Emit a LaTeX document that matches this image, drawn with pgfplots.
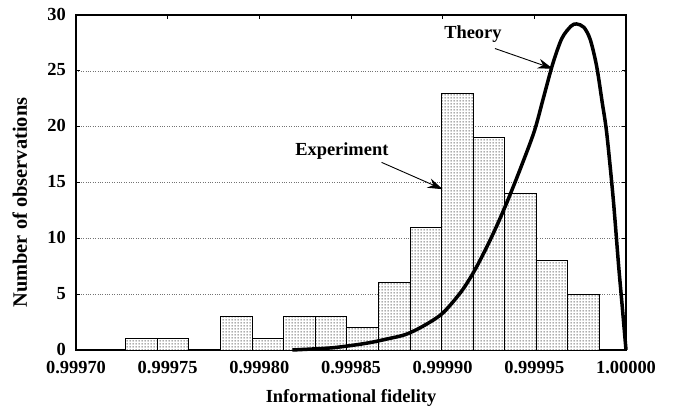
\documentclass[border=0pt]{standalone}
\usepackage{fontspec}
\setmainfont{Liberation Serif}
\usepackage{pgfplots}
\pgfplotsset{compat=1.18}
\usetikzlibrary{arrows.meta,patterns.meta}
\tikzdeclarepattern{
  name=fdots,
  type=uncolored,
  bottom left={(0bp,0bp)},
  top right={(3bp,3bp)},
  tile size={(3bp,3bp)},
  code={\pgfpathrectangle{\pgfpoint{0.8bp}{0.8bp}}{\pgfpoint{1.4bp}{1.4bp}}\pgfusepath{fill}}
}
\begin{document}
\begin{tikzpicture}
\begin{axis}[
  scale only axis,
  width=550bp, height=335bp,
  xmin=0, xmax=30, ymin=0, ymax=30,
  xtick={0,5,10,15,20,25,30},
  xticklabels={0.99970,0.99975,0.99980,0.99985,0.99990,0.99995,1.00000},
  ytick={0,5,10,15,20,25,30},
  yticklabels={0,5,10,15,20,25,30},
  tick align=inside,
  major tick length=4bp,
  tick style={black, line width=0.8bp},
  axis line style={line width=1.3bp},
  ymajorgrids,
  grid style={dotted, black!55, line width=0.5bp},
  ticklabel style={font=\fontsize{18.5}{20}\selectfont\bfseries, inner sep=1bp},
  xticklabel style={yshift=-10bp},
  yticklabel style={xshift=-9bp, yshift=1bp},
  xlabel={Informational fidelity},
  ylabel={Number of observations},
  xlabel style={font=\fontsize{18.5}{20}\selectfont\bfseries, at={(axis description cs:0.5,-0.143)}, anchor=center},
  ylabel style={font=\fontsize{20.5}{22}\selectfont\bfseries, at={(axis description cs:-0.102,0.44)}, anchor=center, rotate=0},
  clip=false,
]
\addplot[ybar interval, draw=black, line width=1bp, fill=white,
  postaction={pattern=fdots, pattern color=black!75}] coordinates {
  (2.71,1) (4.43,1) (6.16,0) (7.88,3) (9.60,1) (11.32,3) (13.05,3) (14.77,2)
  (16.49,6) (18.22,11) (19.94,23) (21.66,19) (23.38,14) (25.11,8) (26.83,5) (28.55,0)
};
\addplot[black, smooth, line width=3.5bp] coordinates {
  (11.8,0) (13,0.1) (14,0.2) (15,0.4) (16,0.65) (17,1.0) (18,1.4) (19,2.2)
  (20,3.3) (21,5.2) (21.7,7.0) (22.4,9.2) (23,11.3) (23.6,13.6) (24.3,16.5)
  (25,19.6) (25.5,22.6) (26,25.6) (26.5,27.9) (27,29.0) (27.3,29.2) (27.7,28.9)
  (28.05,27.8) (28.4,25.4) (28.7,22.2) (28.95,19.4) (29.3,13.6) (29.6,7.5)
  (29.8,3.8) (30,0)
};
\node[font=\fontsize{18.5}{20}\selectfont\bfseries] at (axis cs:14.5,17.8) {Experiment};
\draw[-{Stealth[length=15bp,width=10bp]}, line width=0.9bp] (axis cs:16.67,16.8) -- (axis cs:20.0,14.4);
\node[font=\fontsize{18.5}{20}\selectfont\bfseries] at (axis cs:21.65,28.3) {Theory};
\draw[-{Stealth[length=15bp,width=10bp]}, line width=0.9bp] (axis cs:22.85,27.0) -- (axis cs:26.0,25.2);
\end{axis}
\pgfresetboundingbox
\useasboundingbox (-76bp,-58bp) rectangle (600bp,350bp);
\end{tikzpicture}
\end{document}
